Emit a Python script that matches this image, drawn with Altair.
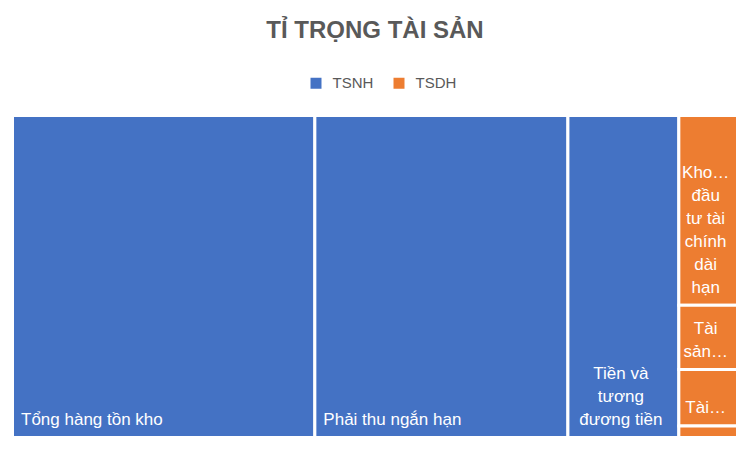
import altair as alt
import pandas as pd

# tên đầy đủ các khoản mục
ten = [
    "Tổng hàng tồn kho",
    "Phải thu ngắn hạn",
    "Tiền và tương đương tiền",
    "Khoản đầu tư tài chính dài hạn",
    "Tài sản cố định",
    "Tài sản dài hạn khác",
    "Bất động sản đầu tư",
]
nhom = ["TSNH", "TSNH", "TSNH", "TSDH", "TSDH", "TSDH", "TSDH"]
gia_tri = [41.7, 34.9, 15.3, 4.77, 1.61, 1.42, 0.29]
# nhãn như hiển thị trên hình (đã xuống dòng / cắt bớt)
nhan = [
    "Tổng hàng tồn kho",
    "Phải thu ngắn hạn",
    "Tiền và\ntương\nđương tiền",
    "Kho…\nđầu\ntư tài\nchính\ndài\nhạn",
    "Tài\nsản…",
    "Tài…",
    "",
]

df = pd.DataFrame({
    "ten": ten,
    "nhom": nhom,
    "gia_tri": gia_tri,
    "nhan": nhan,
    "thu_tu": list(range(len(ten))),
})

FONT = "Liberation Sans"
LINE_H = 23
MAX_LINES = max(len(s.split("\n")) for s in nhan)

base = alt.Chart(df).transform_calculate(
    cot="datum.nhom == 'TSNH' ? datum.ten : 'TSDH'"
).transform_joinaggregate(
    tong_cot="sum(gia_tri)", groupby=["cot"]
).transform_joinaggregate(
    tong="sum(gia_tri)"
).transform_window(
    hang="row_number()", groupby=["cot"], sort=[alt.SortField("thu_tu")]
).transform_calculate(
    dau_cot="datum.hang == 1 ? datum.tong_cot : 0"
).transform_window(
    x1="sum(dau_cot)", sort=[alt.SortField("thu_tu")], frame=[None, 0]
).transform_calculate(
    x0="datum.x1 - datum.tong_cot",
    xc="datum.x1 - datum.tong_cot / 2",
).transform_stack(
    stack="gia_tri", groupby=["cot"], as_=["y0", "y1"],
    offset="normalize", sort=[alt.SortField("thu_tu")]
)

xs = alt.Scale(nice=False, zero=True)
ys = alt.Scale(domain=[0, 1], reverse=True, nice=False)

rects = base.mark_rect(stroke="white", strokeWidth=3).encode(
    x=alt.X("x0:Q", scale=xs, axis=None),
    x2="x1:Q",
    y=alt.Y("y0:Q", scale=ys, axis=None),
    y2="y1:Q",
    color=alt.Color(
        "nhom:N",
        scale=alt.Scale(domain=["TSNH", "TSDH"], range=["#4472C4", "#ED7D31"]),
        legend=alt.Legend(
            title=None, orient="none", direction="horizontal",
            legendX=296, legendY=-40,
            symbolType="square", symbolSize=121, symbolStrokeWidth=0,
            labelFont=FONT, labelFontSize=15, labelColor="#595959",
            labelOffset=9, columnPadding=18, padding=0,
        ),
    ),
    tooltip=["ten:N", "gia_tri:Q"],
)

# mỗi dòng nhãn là một hàng; k = số thứ tự dòng tính từ dưới đáy ô lên
lines = base.transform_calculate(
    dong="split(datum.nhan, '\\n')"
).transform_flatten(
    ["dong"]
).transform_window(
    chi_so="row_number()", groupby=["ten"]
).transform_joinaggregate(
    so_dong="count()", groupby=["ten"]
).transform_calculate(
    k="datum.so_dong - datum.chi_so"
)

layers = [rects]
for k in range(MAX_LINES):
    style = dict(
        baseline="alphabetic", dy=-12.5 - k * LINE_H,
        font=FONT, fontSize=17, color="white",
    )
    sel = lines.transform_filter(f"datum.k == {k}")
    layers.append(
        sel.transform_filter("(datum.x1 - datum.x0) / datum.tong >= 0.2")
        .mark_text(align="left", dx=8.5, **style)
        .encode(
            x=alt.X("x0:Q", scale=xs, axis=None),
            y=alt.Y("y1:Q", scale=ys, axis=None),
            text="dong:N",
        )
    )
    layers.append(
        sel.transform_filter("(datum.x1 - datum.x0) / datum.tong < 0.2")
        .mark_text(align="center", dx=-2.5, **style)
        .encode(
            x=alt.X("xc:Q", scale=xs, axis=None),
            y=alt.Y("y1:Q", scale=ys, axis=None),
            text="dong:N",
        )
    )

chart = alt.layer(*layers).properties(
    width=725,
    height=322,
    autosize="none",
    padding={"left": 4.5, "top": 107.5, "right": 5.5, "bottom": 5.5},
    title=alt.TitleParams(
        "TỈ TRỌNG TÀI SẢN", font=FONT, fontSize=24, fontWeight="bold",
        color="#595959", anchor="middle", offset=33,
    ),
).configure_view(stroke=None)

chart.save("out.html", embed_options={"renderer": "svg", "actions": False})
